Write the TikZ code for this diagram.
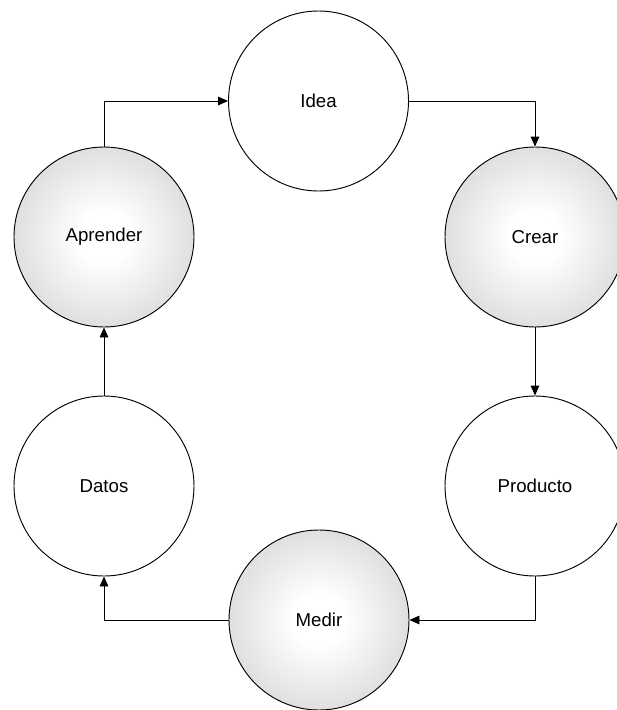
\documentclass[tikz,border=0pt]{standalone}
\usepackage{fontspec}
\setmainfont{Liberation Sans}
\usetikzlibrary{arrows.meta,shapes}

\pgfdeclareradialshading{bolagris}{\pgfpoint{0bp}{0bp}}{color(0bp)=(white); color(7bp)=(white); color(36bp)=(black!20); color(50bp)=(black!22)}

\begin{document}
\begin{tikzpicture}[
    x=0.75pt, y=-0.75pt,
    etapa/.style={circle, draw, line width=0.7pt, fill=white, minimum size=135pt, inner sep=0pt, font=\fontsize{14}{16}\selectfont},
    sombra/.style={etapa, shading=bolagris},
    flecha/.style={line width=0.7pt, -{Triangle[length=7.5pt,width=6.5pt]}}
]
    \useasboundingbox (0,0) rectangle (617,710);

    % Ciclo superior
    \node[etapa] (idea) at (318.5,101) {Idea};
    \node[sombra] (aprender) at (104,237) {Aprender};
    \node[sombra] (crear) at (535,237) {Crear};

    % Ciclo inferior
    \node[etapa] (datos) at (104,486) {Datos};
    \node[etapa] (producto) at (535,486) {Producto};
    \node[sombra] (medir) at (319,620) {Medir};

    % Flechas
    \draw[flecha] (aprender) |- (idea);
    \draw[flecha] (idea) -| (crear);
    \draw[flecha] (crear) -- (producto);
    \draw[flecha] (producto) |- (medir);
    \draw[flecha] (medir) -| (datos);
    \draw[flecha] (datos) -- (aprender);

\end{tikzpicture}
\end{document}
